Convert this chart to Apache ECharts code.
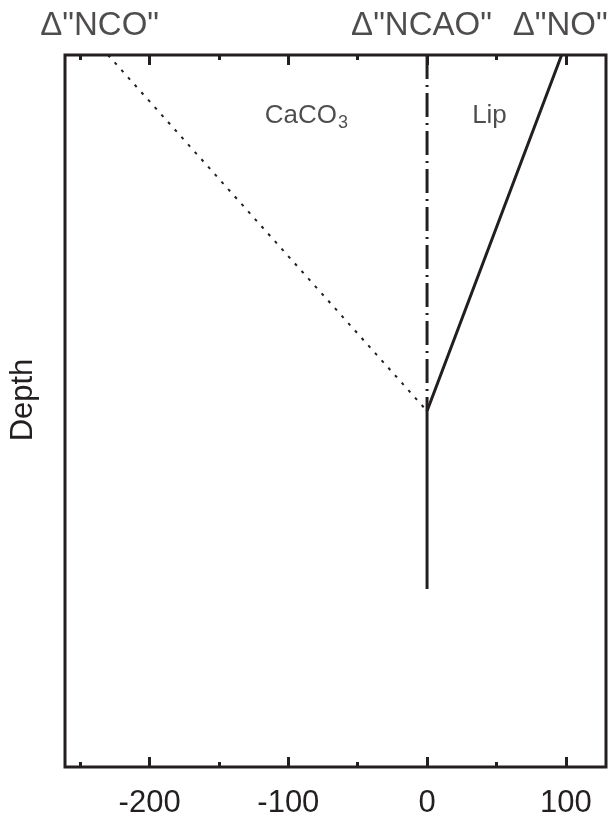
<!DOCTYPE html>
<html>
<head>
<meta charset="utf-8">
<script src="https://cdn.jsdelivr.net/npm/echarts@6/dist/echarts.min.js"></script>
<style>
  html, body { margin: 0; padding: 0; background: #fff; }
  #chart { width: 612px; height: 819px; }
</style>
</head>
<body>
<div id="chart"></div>
<script>
// Horizontal scale (Δ values) and depth (0 = top, 1 = bottom of the frame)
var xMin = -261, xMax = 129;
var majorTicks = [-200, -100, 0, 100];
var minorTicks = [-250, -150, -50, 50];

// Curve names written above the frame, at their Δ positions
var topLabelValues = [-236, -4, 96];
var topLabelNames = ['Δ"NCO"', 'Δ"NCAO"', 'Δ"NO"'];

// Lines: [Δ, depth]
var ncoLine = [[-230, 0], [0, 0.5]];
var ncaoLine = [[0, 0], [0, 0.5]];
var noLine = [[97, 0], [0, 0.5], [0, 0.75]];

// Region annotations: [Δ, depth]
var caco3Pos = [-87, 0.085];
var lipPos = [45, 0.085];

var ink = '#231f20';
var font = '"Liberation Sans", Arial, sans-serif';

var chart = echarts.init(document.getElementById('chart'));

// One axis per tick row; every row points into the frame.
function tickAxis(pos, ticks, len, label) {
  return {
    type: 'value', position: pos, min: xMin, max: xMax,
    axisLine: { show: false, onZero: false },
    splitLine: { show: false },
    axisTick: { show: true, inside: true, length: len, customValues: ticks, lineStyle: { color: ink, width: 3 } },
    axisLabel: label || { show: false }
  };
}

var bottomLabels = { show: true, customValues: majorTicks, margin: 21, color: ink, fontSize: 31, fontFamily: font };

// Name points along the top edge and the two region names
var nameData = topLabelValues.map(function (v, i) { return { value: [v, 0], name: topLabelNames[i] }; });
var regionData = [
  { value: caco3Pos, name: '{a|CaCO}{b|3}' },
  { value: lipPos, name: '{a|Lip}' }
];

chart.setOption({
  animation: false,
  backgroundColor: '#fff',
  grid: { left: 64, right: 6, top: 55, bottom: 50, show: true, borderColor: ink, borderWidth: 3 },
  xAxis: [
    tickAxis('bottom', majorTicks, 10, bottomLabels),
    tickAxis('bottom', minorTicks, 5),
    tickAxis('top', majorTicks, 10),
    tickAxis('top', minorTicks, 5)
  ],
  yAxis: {
    type: 'value', min: 0, max: 1, inverse: true,
    axisLine: { show: false, onZero: false }, axisTick: { show: false }, axisLabel: { show: false }, splitLine: { show: false },
    name: 'Depth', nameLocation: 'middle', nameGap: 26, nameRotate: 90,
    nameTextStyle: { color: ink, fontSize: 31, fontFamily: font, padding: [0, 0, 0, 22] }
  },
  series: [
    {
      type: 'line', data: ncoLine, symbol: 'none',
      lineStyle: { color: ink, width: 2, type: [3, 7] }
    },
    {
      type: 'line', data: ncaoLine, symbol: 'none',
      lineStyle: { color: ink, width: 3, type: [24, 6, 2, 6] }
    },
    {
      type: 'line', data: noLine, symbol: 'none',
      lineStyle: { color: ink, width: 3 }
    },
    {
      type: 'scatter', data: nameData, symbolSize: 0, silent: true, clip: false,
      label: {
        show: true, position: 'top', distance: 13, formatter: '{b}',
        color: ink, fontSize: 33, fontFamily: font
      }
    },
    {
      type: 'scatter', data: regionData, symbolSize: 0, silent: true,
      label: {
        show: true, position: 'inside', formatter: '{b}', color: ink,
        rich: {
          a: { fontSize: 26, fontFamily: font, color: ink },
          b: { fontSize: 18, fontFamily: font, color: ink, padding: [16, 0, 0, 1] }
        }
      }
    }
  ]
});
</script>
</body>
</html>
